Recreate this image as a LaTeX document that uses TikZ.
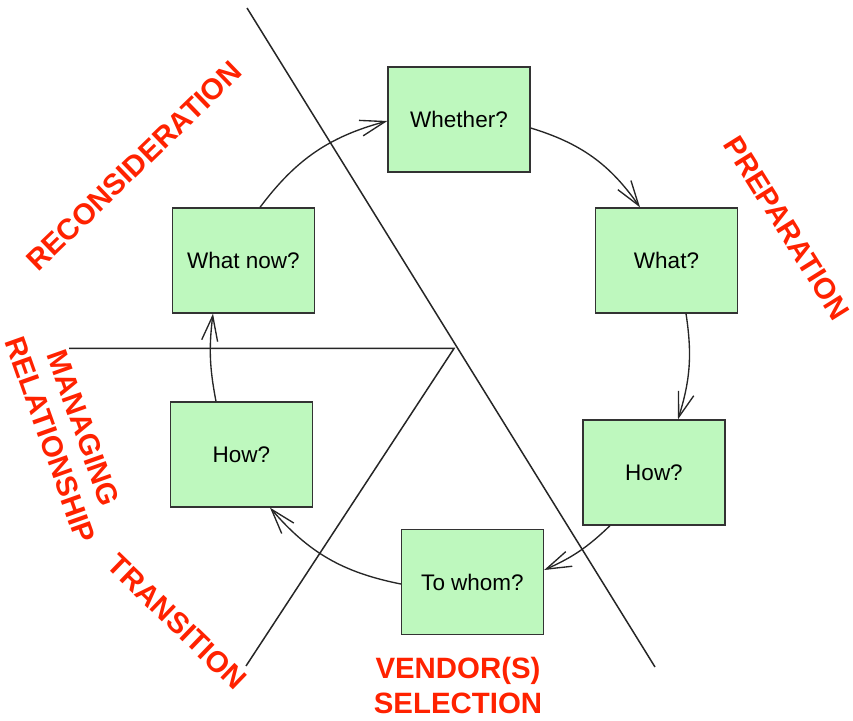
\documentclass[tikz,border=0pt]{standalone}
\usepackage{fontspec}
\setmainfont{Liberation Sans}
\usetikzlibrary{arrows.meta}
\definecolor{boxgreen}{RGB}{190,248,190}
\definecolor{labelred}{RGB}{255,34,0}
\begin{document}
\begin{tikzpicture}[x=1pt,y=1pt,
  stepbox/.style={draw=black!80, line width=1.3pt, fill=boxgreen,
    minimum width=142pt, minimum height=105pt, inner sep=0pt,
    font=\fontsize{22.5}{27}\selectfont},
  flow/.style={line width=1.35pt, black!85,
    -{Straight Barb[length=25pt,width=16pt,line width=1.35pt]}},
  divider/.style={line width=1.5pt, black!85},
  phase/.style={text=labelred, font=\fontsize{29.4}{35}\selectfont\bfseries,
    align=center, inner sep=0pt}]
\useasboundingbox (0,0) rectangle (853,720);

% dividing lines between the phases
\coordinate (topend) at (247,712);
\coordinate (botend) at (655,53);
\coordinate (hub) at (454,371.5);
\coordinate (leftend) at (69,371.5);
\coordinate (lowend) at (246,54);
\draw[divider] (topend) -- (botend);
\draw[divider] (leftend) -- (hub) -- (lowend);

% the six questions of the cycle
\node[stepbox] (whether) at (459,600.5) {Whether?};
\node[stepbox] (what)    at (666.5,459.5) {What?};
\node[stepbox] (howR)    at (654,247.5) {How?};
\node[stepbox] (whom)    at (472.5,138) {To whom?};
\node[stepbox] (howL)    at (241.5,265.5) {How?};
\node[stepbox] (whatnow) at (243.5,459.5) {What now?};

% clockwise flow
\draw[flow] ([xshift=16.5pt]whatnow.north) to[bend left=19] ([yshift=-1.5pt]whether.west);
\draw[flow] ([yshift=-8.5pt]whether.east) to[bend left=19] ([xshift=-26.5pt]what.north);
\draw[flow] ([xshift=19.5pt]what.south) to[bend left=13] ([xshift=24pt]howR.north);
\draw[flow] ([xshift=-44pt]howR.south) to[bend left=10] ([yshift=12pt]whom.east);
\draw[flow] ([yshift=-2pt]whom.west) to[bend left=19] ([xshift=28.5pt]howL.south);
\draw[flow] ([xshift=-25.5pt]howL.north) to[bend left=9] ([xshift=-30.5pt]whatnow.south);

% phase names
\node[phase, rotate=44]    (recon)  at (134,554) {RECONSIDERATION};
\node[phase, rotate=-58]   (prep)   at (787,492) {PREPARATION};
\node[phase, rotate=-70.5] (manage) at (67,286)  {MANAGING\\RELATIONSHIP};
\node[phase, rotate=-44]   (trans)  at (177,98)  {TRANSITION};
\node[phase]               (vendor) at (458,34.5) {VENDOR(S)\\SELECTION};
\end{tikzpicture}
\end{document}
